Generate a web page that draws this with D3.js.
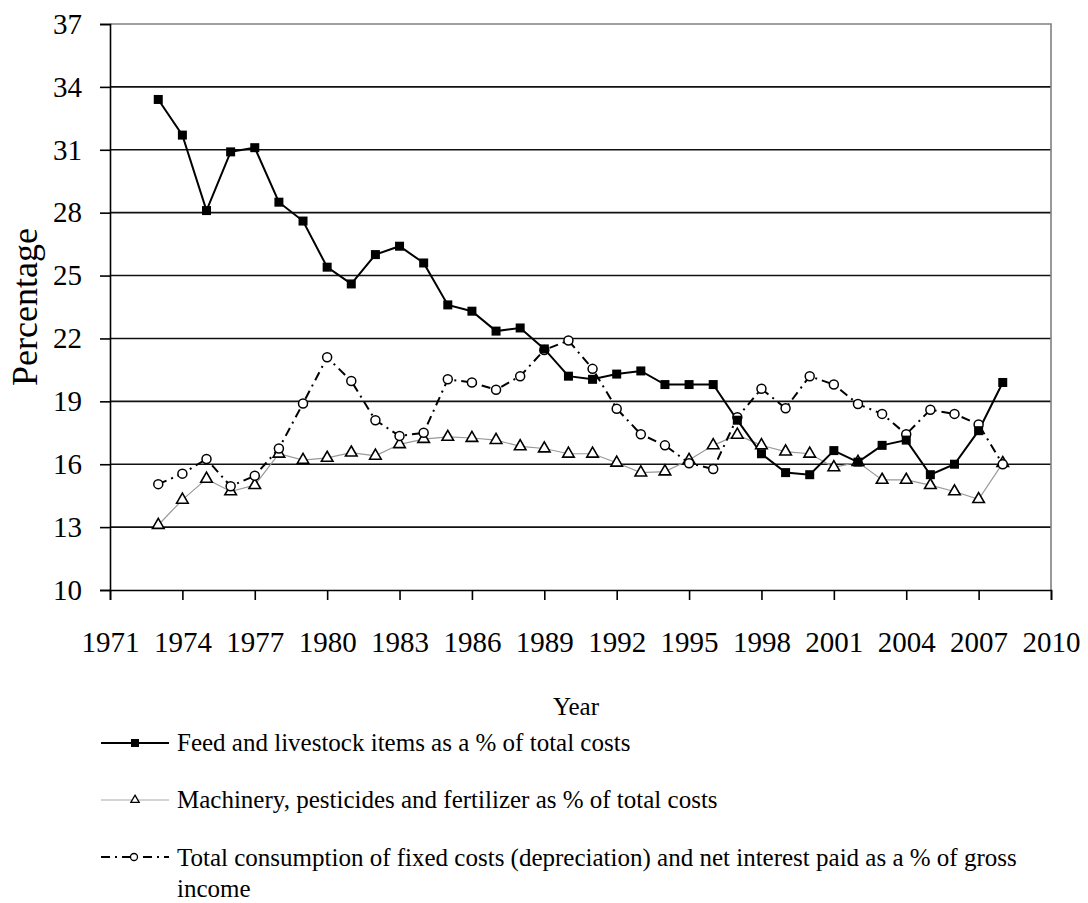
<!DOCTYPE html>
<html>
<head>
<meta charset="utf-8">
<script src="https://cdn.jsdelivr.net/npm/d3@7"></script>
<style>
  body { margin: 0; background: #fff; }
  svg text { font-family: "Liberation Serif", "Times New Roman", serif; fill: #000; }
</style>
</head>
<body>
<svg id="chart" width="1088" height="903"></svg>
<script>
// years on the x axis
var years = [1973, 1974, 1975, 1976, 1977, 1978, 1979, 1980, 1981, 1982, 1983, 1984, 1985,
  1986, 1987, 1988, 1989, 1990, 1991, 1992, 1993, 1994, 1995, 1996, 1997, 1998, 1999,
  2000, 2001, 2002, 2003, 2004, 2005, 2006, 2007, 2008];

// Feed and livestock items as a % of total costs
var feed = [33.4, 31.7, 28.1, 30.9, 31.1, 28.5, 27.6, 25.4, 24.6, 26.0, 26.4, 25.6, 23.6,
  23.3, 22.35, 22.5, 21.5, 20.2, 20.05, 20.3, 20.45, 19.8, 19.8, 19.8, 18.1, 16.5, 15.6,
  15.5, 16.65, 16.1, 16.9, 17.15, 15.5, 16.0, 17.6, 19.9];

// Machinery, pesticides and fertilizer as % of total costs
var machinery = [13.1, 14.3, 15.3, 14.7, 15.0, 16.5, 16.2, 16.3, 16.55, 16.4, 16.95, 17.2, 17.3,
  17.25, 17.15, 16.85, 16.75, 16.5, 16.5, 16.07, 15.6, 15.65, 16.2, 16.9, 17.4, 16.9, 16.6,
  16.5, 15.85, 16.1, 15.25, 15.25, 15.0, 14.7, 14.33, 16.05];

// Total consumption of fixed costs and net interest paid as a % of gross income
var fixedCosts = [15.05, 15.55, 16.25, 14.95, 15.45, 16.75, 18.9, 21.1, 19.97, 18.1, 17.35, 17.5, 20.05,
  19.9, 19.55, 20.2, 21.45, 21.9, 20.55, 18.65, 17.43, 16.9, 16.05, 15.77, 18.24, 19.6, 18.67,
  20.2, 19.8, 18.87, 18.4, 17.43, 18.6, 18.4, 17.9, 16.0];

var yTicks = [10, 13, 16, 19, 22, 25, 28, 31, 34, 37];
var xTicks = [1971, 1974, 1977, 1980, 1983, 1986, 1989, 1992, 1995, 1998, 2001, 2004, 2007, 2010];

var legendLabels = [
  "Feed and livestock items as a % of total costs",
  "Machinery, pesticides and fertilizer as % of total costs",
  "Total consumption of fixed costs (depreciation) and net interest paid as a % of gross"
];

var svg = d3.select("#chart");
var margin = { left: 110, right: 37, top: 24, bottom: 313 };
var W = 1088, H = 903;

var x = d3.scaleLinear().domain([1971, 2010]).range([margin.left, W - margin.right]);
var y = d3.scaleLinear().domain([10, 37]).range([H - margin.bottom, margin.top]);

// grid lines
svg.append("g")
  .selectAll("line")
  .data(yTicks.filter(function (d) { return d > 10 && d < 37; }))
  .enter().append("line")
  .attr("x1", x(1971)).attr("x2", x(2010))
  .attr("y1", function (d) { return y(d); })
  .attr("y2", function (d) { return y(d); })
  .attr("stroke", "#111").attr("stroke-width", 1.6);

// plot border top and right (grey)
svg.append("path")
  .attr("d", "M" + x(1971) + "," + y(37) + "H" + x(2010) + "V" + y(10))
  .attr("fill", "none").attr("stroke", "#808080").attr("stroke-width", 1.6);

// y axis
var yAxis = svg.append("g")
  .attr("transform", "translate(" + x(1971) + ",0)")
  .call(d3.axisLeft(y).tickValues(yTicks).tickSize(10).tickPadding(18));
yAxis.attr("font-family", null);
yAxis.selectAll("line").attr("stroke", "#000").attr("stroke-width", 1.6);
yAxis.select(".domain").attr("stroke", "#000").attr("stroke-width", 1.6);
yAxis.selectAll("text").style("font-size", "29px");

// x axis
var xAxis = svg.append("g")
  .attr("transform", "translate(0," + y(10) + ")")
  .call(d3.axisBottom(x).tickValues(xTicks).tickSize(10).tickPadding(0)
    .tickFormat(d3.format("d")));
xAxis.attr("font-family", null);
xAxis.selectAll("line").attr("stroke", "#000").attr("stroke-width", 1.6);
xAxis.select(".domain").attr("stroke", "#000").attr("stroke-width", 1.6);
xAxis.selectAll("text")
  .attr("y", 62).attr("dy", null)
  .style("font-size", "29px");

// axis titles
svg.append("text")
  .attr("transform", "translate(37," + (y(10) + y(37)) / 2 + ") rotate(-90)")
  .attr("text-anchor", "middle")
  .style("font-size", "36px")
  .text("Percentage");

svg.append("text")
  .attr("x", 576).attr("y", 715)
  .attr("text-anchor", "middle")
  .style("font-size", "25px")
  .text("Year");

// series
var line = d3.line()
  .x(function (d, i) { return x(years[i]); })
  .y(function (d) { return y(d); });

svg.append("path").datum(machinery)
  .attr("d", line).attr("fill", "none")
  .attr("stroke", "#999").attr("stroke-width", 1.2);

svg.append("path").datum(fixedCosts)
  .attr("d", line).attr("fill", "none")
  .attr("stroke", "#000").attr("stroke-width", 2)
  .attr("stroke-dasharray", "9,5,2,5");

svg.append("path").datum(feed)
  .attr("d", line).attr("fill", "none")
  .attr("stroke", "#000").attr("stroke-width", 2);

var tri = d3.symbol().type(d3.symbolTriangle).size(58);

svg.append("g").selectAll("path")
  .data(machinery).enter().append("path")
  .attr("d", tri)
  .attr("transform", function (d, i) { return "translate(" + x(years[i]) + "," + y(d) + ")"; })
  .attr("fill", "#fff").attr("stroke", "#000").attr("stroke-width", 1.6);

svg.append("g").selectAll("circle")
  .data(fixedCosts).enter().append("circle")
  .attr("cx", function (d, i) { return x(years[i]); })
  .attr("cy", function (d) { return y(d); })
  .attr("r", 4.5)
  .attr("fill", "#fff").attr("stroke", "#000").attr("stroke-width", 1.5);

svg.append("g").selectAll("rect")
  .data(feed).enter().append("rect")
  .attr("x", function (d, i) { return x(years[i]) - 4.5; })
  .attr("y", function (d) { return y(d) - 4.5; })
  .attr("width", 9).attr("height", 9)
  .attr("fill", "#000");

// legend
var lg = svg.append("g");
var legRows = [743, 800, 857];
var legText = [751, 808, 866];

lg.append("line").attr("x1", 101).attr("x2", 169).attr("y1", legRows[0]).attr("y2", legRows[0])
  .attr("stroke", "#000").attr("stroke-width", 2);
lg.append("rect").attr("x", 131).attr("y", legRows[0] - 4).attr("width", 8).attr("height", 8).attr("fill", "#000");

lg.append("line").attr("x1", 101).attr("x2", 169).attr("y1", legRows[1]).attr("y2", legRows[1])
  .attr("stroke", "#aaa").attr("stroke-width", 1.2);
lg.append("path").attr("d", d3.symbol().type(d3.symbolTriangle).size(30))
  .attr("transform", "translate(135," + legRows[1] + ")")
  .attr("fill", "#fff").attr("stroke", "#000").attr("stroke-width", 1.3);

lg.append("line").attr("x1", 101).attr("x2", 169).attr("y1", legRows[2]).attr("y2", legRows[2])
  .attr("stroke", "#000").attr("stroke-width", 2)
  .attr("stroke-dasharray", "9,5,2,5");
lg.append("circle").attr("cx", 134).attr("cy", legRows[2]).attr("r", 3.5)
  .attr("fill", "#fff").attr("stroke", "#000").attr("stroke-width", 1.3);

lg.selectAll("text.leg")
  .data(legendLabels).enter().append("text")
  .attr("class", "leg")
  .attr("x", 177)
  .attr("y", function (d, i) { return legText[i]; })
  .style("font-size", "25px")
  .text(function (d) { return d; });

lg.append("text")
  .attr("x", 177).attr("y", 897)
  .style("font-size", "25px")
  .text("income");
</script>
</body>
</html>
